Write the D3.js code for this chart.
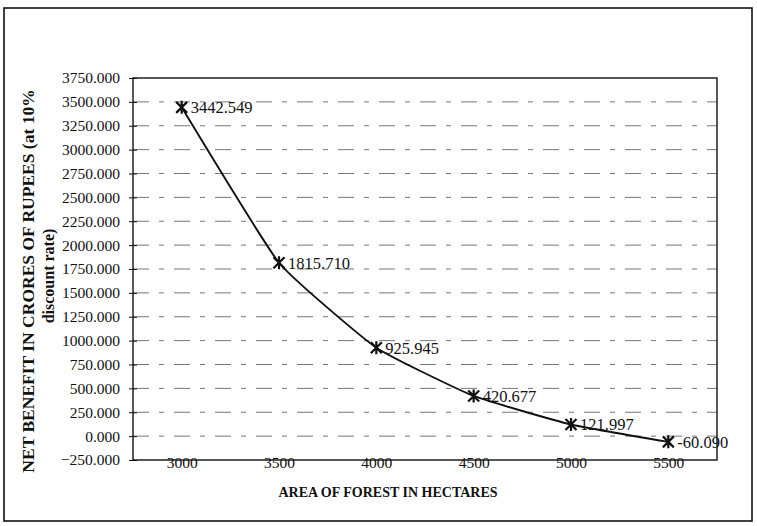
<!DOCTYPE html>
<html><head><meta charset="utf-8">
<script src="https://cdn.jsdelivr.net/npm/d3@7"></script>
<style>body{margin:0;background:#fff}svg{display:block}text{font-family:"Liberation Serif","Times New Roman",serif;fill:#111}</style>
</head><body><svg id="c" width="757" height="526"></svg>
<script>
const categories = ["3000","3500","4000","4500","5000","5500"];
const values = [3442.549, 1815.710, 925.945, 420.677, 121.997, -60.090];
const valueLabels = ["3442.549","1815.710","925.945","420.677","121.997","-60.090"];
const yTicks = [-250,0,250,500,750,1000,1250,1500,1750,2000,2250,2500,2750,3000,3250,3500,3750];
const xTitle = "AREA OF FOREST IN HECTARES";
const yTitle1 = "NET BENEFIT IN CRORES OF RUPEES (at 10%";
const yTitle2 = "discount rate)";

const svg = d3.select("#c");
const L=133, R=717, T=78, B=460;
const x = d3.scalePoint().domain(categories).range([L,R]).padding(0.5);
const y = d3.scaleLinear().domain([-250,3750]).range([B,T]);

// outer border
svg.append("rect").attr("x",4).attr("y",8).attr("width",748).attr("height",513)
  .attr("fill","none").attr("stroke","#111").attr("stroke-width",1.6);

// gridlines
svg.append("g").selectAll("line").data(yTicks.filter(v=>v>-250&&v<3750)).join("line")
  .attr("x1",L).attr("x2",R).attr("y1",d=>y(d)).attr("y2",d=>y(d))
  .attr("stroke","#777").attr("stroke-width",1).attr("stroke-dasharray","16,10,5,10");

// plot frame
svg.append("rect").attr("x",L).attr("y",T).attr("width",R-L).attr("height",B-T)
  .attr("fill","none").attr("stroke","#111").attr("stroke-width",1.4);

// y axis
const ya = svg.append("g").attr("transform",`translate(${L},0)`)
  .call(d3.axisLeft(y).tickValues(yTicks).tickFormat(d3.format(".3f")).tickSize(4).tickPadding(9));
ya.select(".domain").remove();
ya.selectAll("line").attr("x2",-4).attr("x1",4).attr("stroke","#111");
ya.selectAll("text").style("font-size","15.5px").attr("fill","#111");

// x axis
const xa = svg.append("g").attr("transform",`translate(0,${B})`)
  .call(d3.axisBottom(x).tickSize(0).tickPadding(-3));
xa.select(".domain").remove();
xa.selectAll("text").style("font-size","15.5px").attr("fill","#111").attr("dy","0.71em");

// line
const pts = categories.map((c,i)=>[x(c), y(values[i])]);
svg.append("path").attr("d", d3.line().curve(d3.curveCardinal.tension(0.6))(pts))
  .attr("fill","none").attr("stroke","#111").attr("stroke-width",1.9);

// markers (star: X + vertical)
const m = svg.append("g").selectAll("g").data(pts).join("g")
  .attr("transform",d=>`translate(${d[0]},${d[1]})`);
m.append("path").attr("d","M-5.5,-5.5L5.5,5.5M-5.5,5.5L5.5,-5.5M0,-6.5L0,6.5")
  .attr("stroke","#111").attr("stroke-width",2.2).attr("fill","none");

// value labels
svg.append("g").selectAll("text").data(pts).join("text")
  .attr("x",d=>d[0]+9).attr("y",d=>d[1]+6)
  .style("font-size","16.5px").text((d,i)=>valueLabels[i]);

// titles
svg.append("text").attr("x",388).attr("y",497).attr("text-anchor","middle")
  .style("font-size","14px").style("font-weight","bold").text(xTitle);
svg.append("text").attr("transform","translate(34,281) rotate(-90)").attr("text-anchor","middle")
  .style("font-size","17.5px").style("font-weight","bold").text(yTitle1);
svg.append("text").attr("transform","translate(54,276) rotate(-90)").attr("text-anchor","middle")
  .style("font-size","16px").style("font-weight","bold").text(yTitle2);
</script></body></html>
